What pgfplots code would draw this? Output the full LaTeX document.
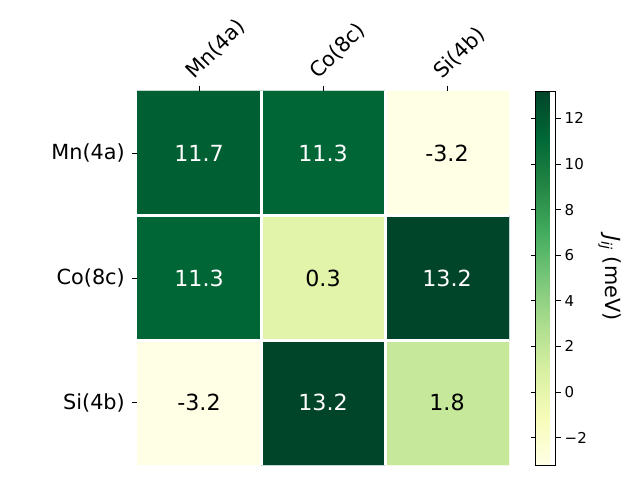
\documentclass[border=0pt]{standalone}
\usepackage{pgfplots}
\pgfplotsset{compat=1.18}
\usepackage{fontspec}
\setmainfont{DejaVu Sans}

\pgfplotstableread{
x y z
0 0 11.7
1 0 11.3
2 0 -3.2
0 1 11.3
1 1 0.3
2 1 13.2
0 2 -3.2
1 2 13.2
2 2 1.8
}\jmat

\begin{document}
\begin{tikzpicture}[x=1bp,y=1bp]
\useasboundingbox (0,0) rectangle (640,480);
\begin{axis}[
  at={(137bp,15bp)}, anchor=south west,
  scale only axis, width=372bp, height=374bp,
  xmin=-0.5, xmax=2.5, ymin=-0.5, ymax=2.5,
  y dir=reverse,
  axis line style={draw=none},
  xtick={0,1,2}, ytick={0,1,2},
  xticklabels={Mn(4a),Co(8c),Si(4b)},
  yticklabels={Mn(4a),Co(8c),Si(4b)},
  xtick pos=right, ytick pos=left,
  xticklabel pos=right,
  tick align=outside, major tick length=5bp,
  tick style={black, line width=0.8bp},
  ticklabel style={font=\fontsize{20.8bp}{24bp}\selectfont},
  xticklabel style={rotate=45, anchor=base west, inner sep=0pt, xshift=1bp, yshift=7.5bp},
  yticklabel style={inner sep=0pt, xshift=-7bp},
  minor xtick={0.5,1.5}, minor ytick={0.5,1.5},
  minor tick length=0pt,
  xminorgrids, yminorgrids,
  minor grid style={white, line width=3bp},
  axis on top,
  colormap={ylgn}{rgb255=(255,255,229) rgb255=(247,252,185) rgb255=(217,240,163)
    rgb255=(173,221,142) rgb255=(120,198,121) rgb255=(65,171,93)
    rgb255=(35,132,67) rgb255=(0,104,55) rgb255=(0,69,41)},
  point meta min=-3.2, point meta max=13.2,
  colorbar,
  colorbar style={
    at={(parent axis.north east)}, anchor=north west, xshift=18bp,
    scale only axis, width=20bp, height=374bp,
    axis line style={draw=black, line width=0.8bp},
    ytick={-2,0,2,4,6,8,10,12},
    yticklabels={−2,0,2,4,6,8,10,12},
    yticklabel style={font=\fontsize{15bp}{17bp}\selectfont, inner sep=0pt, xshift=4bp},
    tick align=outside, major tick length=5bp,
    tick style={black, line width=0.8bp},
    ylabel={{\itshape J}\textsubscript{\itshape ij} (meV)},
    ylabel style={font=\fontsize{20.8bp}{24bp}\selectfont, rotate=180},
    ylabel shift=8bp,
  },
]
\addplot[matrix plot*, mesh/cols=3, point meta=explicit] table[meta=z] {\jmat};
\addplot[draw=none, mark=none, nodes near coords, point meta=explicit symbolic,
  nodes near coords style={anchor=center, text=white, font=\fontsize{22.2bp}{26bp}\selectfont}]
  table[meta=t] {
x y t
0 0 11.7
1 0 11.3
0 1 11.3
2 1 13.2
1 2 13.2
};
\addplot[draw=none, mark=none, nodes near coords, point meta=explicit symbolic,
  nodes near coords style={anchor=center, text=black, font=\fontsize{22.2bp}{26bp}\selectfont}]
  table[meta=t] {
x y t
2 0 -3.2
1 1 0.3
0 2 -3.2
2 2 1.8
};
\end{axis}
\end{tikzpicture}
\end{document}
